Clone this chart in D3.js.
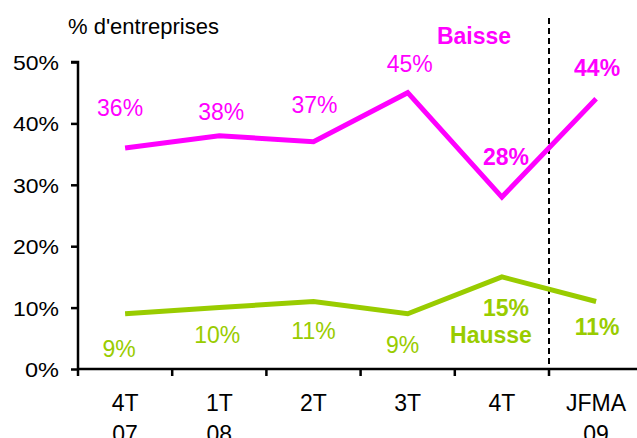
<!DOCTYPE html>
<html><head><meta charset="utf-8">
<script src="https://cdn.jsdelivr.net/npm/d3@7"></script>
<style>body{margin:0;background:#fff}svg{display:block;font-family:"Liberation Sans",Arial,Helvetica,sans-serif}</style>
</head><body>
<svg id="c" width="637" height="438"></svg>
<script>
const categories = [["4T","07"],["1T","08"],["2T"],["3T"],["4T"],["JFMA","09"]];
const baisse = [36, 38, 37, 45, 28, 44];
const hausse = [9, 10, 11, 9, 15, 11];
const yTicks = [0, 10, 20, 30, 40, 50];
const boldFrom = 4; // the last two labels of each series are bold
const baisseLabelOffset = [[-5,-32],[2,-16],[1,-29],[2,-21],[4,-32],[1,-23]];
const hausseLabelOffset = [[-6,43],[-2,35],[0,38],[-5,39],[4,39],[1,34]];

const svg = d3.select("#c");
const M = {left:78, top:62, bottom:369};
const band = 94.2;
const x = d3.scaleBand().domain(d3.range(categories.length)).range([M.left, M.left + band*categories.length]).paddingInner(0).paddingOuter(0);
const y = d3.scaleLinear().domain([0, 50]).range([M.bottom, M.top]);
const MAG = "#ff00ff", GRN = "#99cc00";

// y axis
const ya = svg.append("g").attr("transform", `translate(${M.left},0)`)
  .call(d3.axisLeft(y).tickValues(yTicks).tickFormat(d => d + "%").tickSize(7).tickPadding(12));
ya.select(".domain").attr("stroke", "#000").attr("stroke-width", 2.5).attr("d", `M-7,${y(50)}H0V${y(0)}`);
ya.selectAll(".tick line").attr("stroke", "#000").attr("stroke-width", 2.5);
ya.selectAll(".tick text").attr("font-size", 21).attr("fill", "#000").attr("font-family", "Liberation Sans, Arial, sans-serif").attr("dy", "0.36em")
  .attr("textLength", d => d === 0 ? 34 : 46).attr("lengthAdjust", "spacingAndGlyphs");

// x axis
const xa = svg.append("g").attr("transform", `translate(0,${M.bottom})`);
xa.append("line").attr("x1", M.left).attr("x2", 637).attr("stroke", "#000").attr("stroke-width", 2.5);
const bounds = d3.range(categories.length).map(i => x(i));
xa.selectAll("line.tk").data(bounds).join("line").attr("class","tk")
  .attr("x1", d => d).attr("x2", d => d).attr("y1", 0).attr("y2", 7).attr("stroke","#000").attr("stroke-width",2.5);
const xl = xa.selectAll("text.xl").data(categories).join("text").attr("class","xl")
  .attr("text-anchor","middle").attr("font-size",23).attr("fill","#000")
  .attr("transform", (d,i) => `translate(${x(i)+x.bandwidth()/2},42)`);
xl.selectAll("tspan").data(d => d).join("tspan").attr("x",0).attr("y",(d,j)=> j*31).text(d=>d);

// dashed separator
svg.append("line").attr("x1", x(5)).attr("x2", x(5)).attr("y1", 18).attr("y2", M.bottom)
  .attr("stroke","#000").attr("stroke-width",2).attr("stroke-dasharray","6,4");

const line = d3.line().x((d,i) => x(i) + x.bandwidth()/2).y(d => y(d));
svg.append("path").datum(baisse).attr("d", line).attr("fill","none").attr("stroke",MAG).attr("stroke-width",5).attr("stroke-linejoin","miter");
svg.append("path").datum(hausse).attr("d", line).attr("fill","none").attr("stroke",GRN).attr("stroke-width",5).attr("stroke-linejoin","miter");

function labels(data, offs, color){
  svg.append("g").selectAll("text").data(data).join("text")
    .attr("x", (d,i) => x(i) + x.bandwidth()/2 + offs[i][0])
    .attr("y", (d,i) => y(d) + offs[i][1])
    .attr("text-anchor","middle").attr("font-size",23).attr("fill",color)
    .attr("font-weight",(d,i)=> i>=boldFrom ? "bold" : "normal")
    .text(d => d + "%");
}
labels(baisse, baisseLabelOffset, MAG);
labels(hausse, hausseLabelOffset, GRN);

svg.append("text").attr("x",474).attr("y",44).attr("text-anchor","middle").attr("font-size",23).attr("font-weight","bold").attr("fill",MAG).text("Baisse");
svg.append("text").attr("x",491).attr("y",343).attr("text-anchor","middle").attr("font-size",23).attr("font-weight","bold").attr("fill",GRN).text("Hausse");
svg.append("text").attr("x",68).attr("y",34).attr("font-size",22).attr("fill","#000").text("% d'entreprises");
</script>
</body></html>
